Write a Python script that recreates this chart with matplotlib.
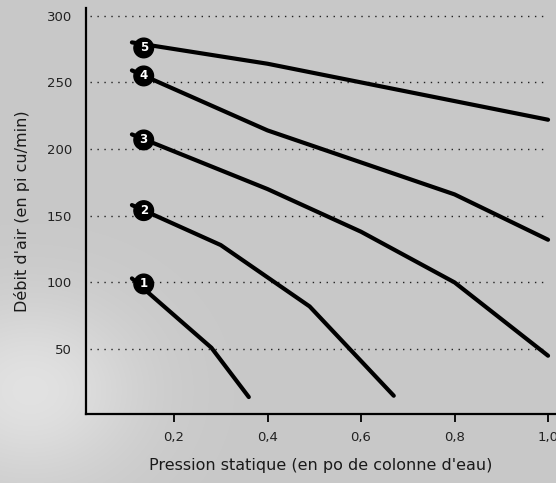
import numpy as np
import matplotlib
matplotlib.use("Agg")
import matplotlib.pyplot as plt

# --- courbes (pression en po d'eau, debit en pi cu/min)
x1 = [0.11, 0.28, 0.36]
y1 = [103, 51, 14]
x2 = [0.11, 0.30, 0.49, 0.67]
y2 = [158, 128, 82, 15]
x3 = [0.11, 0.40, 0.60, 0.80, 1.00]
y3 = [211, 170, 138, 100, 45]
x4 = [0.11, 0.40, 0.80, 1.00]
y4 = [259, 214, 166, 132]
x5 = [0.11, 0.40, 0.60, 0.80, 1.00]
y5 = [280, 264, 250, 236, 222]
curves = [("1", x1, y1), ("2", x2, y2), ("3", x3, y3), ("4", x4, y4), ("5", x5, y5)]

xticks = [0.2, 0.4, 0.6, 0.8, 1.0]
xticklabels = ["0,2", "0,4", "0,6", "0,8", "1,0"]
yticks = [50, 100, 150, 200, 250, 300]

BG = "#c9c9c9"
fig = plt.figure(figsize=(5.56, 4.83), dpi=100)
fig.patch.set_facecolor(BG)

# soft glow lower-left, like the brushed-metal backdrop
gy, gx = np.mgrid[0:483, 0:556]
glow = np.exp(-(((gx - 30) / 110.0) ** 2 + ((gy - 390) / 90.0) ** 2))
base = 0.785 + 0.10 * glow
img = np.dstack([base, base, base])
fig.figimage(img, xo=0, yo=0, origin="upper", zorder=0)

ax = fig.add_axes([86/556, (483-414)/483, (556-86)/556, (414-8)/483])
ax.set_zorder(2)
ax.set_facecolor("none")
ax.set_xlim(0.0118, 1.017)
ax.set_ylim(1.3, 305.8)

for yv in yticks:
    ax.hlines(yv, 0.02, 1.0, colors="#222222", lw=1.0, linestyles=(0, (1, 4)), zorder=1)

for lab, xs, ys in curves:
    ax.plot(xs, ys, color="black", lw=3.0, solid_capstyle="round",
            solid_joinstyle="round", zorder=3)
    ax.annotate(lab, (xs[0], ys[0]), xytext=(8.5, -4), textcoords="offset points",
                ha="center", va="center", color="white", fontsize=8.5, fontweight="bold",
                bbox=dict(boxstyle="circle,pad=0.28", fc="black", ec="black"), zorder=4)

for s in ["top", "right"]:
    ax.spines[s].set_visible(False)
for s in ["left", "bottom"]:
    ax.spines[s].set_linewidth(1.6)
    ax.spines[s].set_color("black")

ax.set_xticks(xticks)
ax.set_xticklabels(xticklabels)
ax.set_yticks(yticks)
ax.tick_params(axis="x", length=6, width=1.3, pad=6, labelsize=9.5, labelcolor="#222222")
ax.tick_params(axis="y", length=0, pad=10, labelsize=9.5, labelcolor="#222222")

ax.set_xlabel("Pression statique (en po de colonne d'eau)", fontsize=11.5,
              color="#1a1a1a", labelpad=10)
ax.set_ylabel("Débit d'air (en pi cu/min)", fontsize=11.5, color="#1a1a1a", labelpad=12)

fig.savefig("out.png", dpi=100, facecolor=BG)
